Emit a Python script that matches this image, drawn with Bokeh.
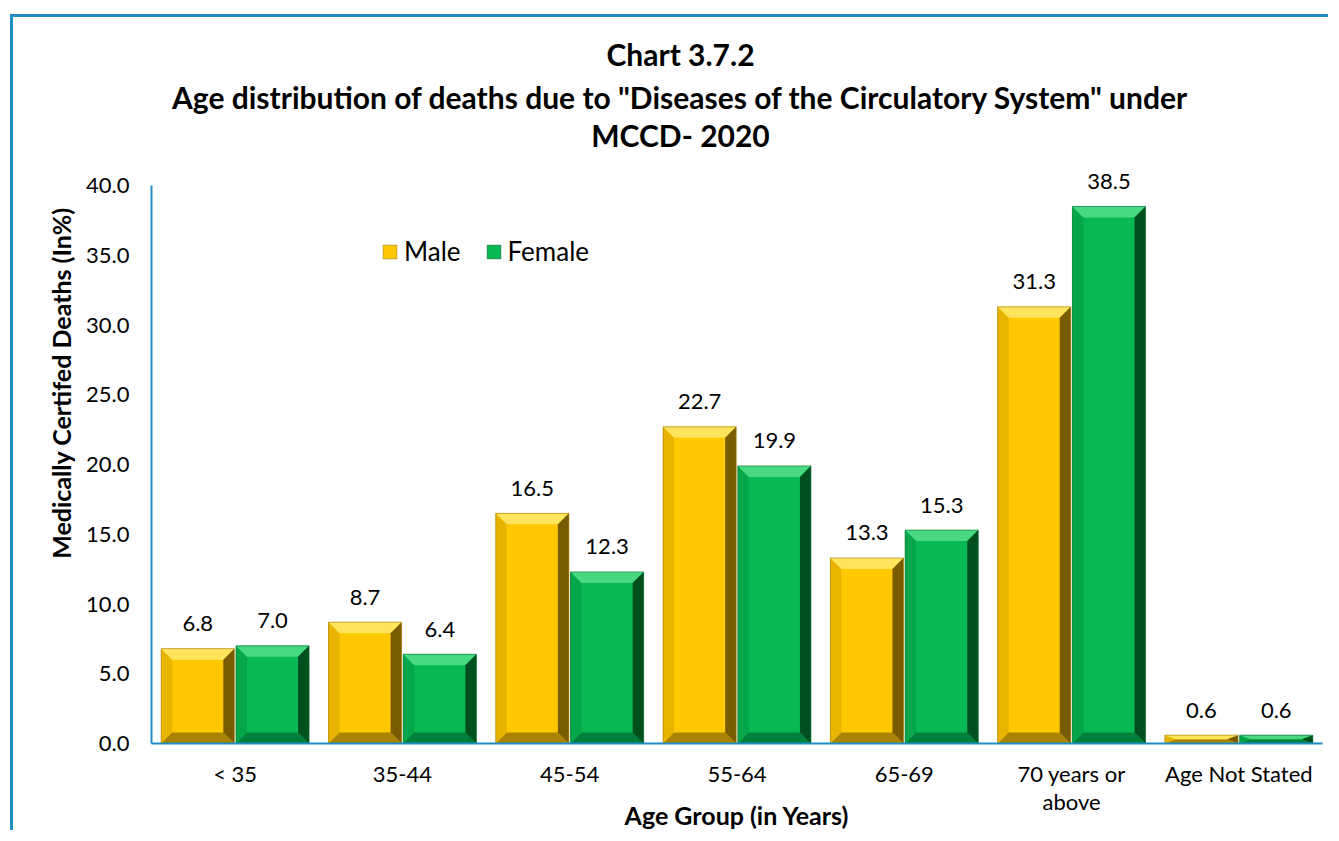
import numpy as np
from bokeh.plotting import figure
from bokeh.models import (Range1d, FixedTicker, PrintfTickFormatter, Legend, Label,
                          LegendItem, ColumnDataSource, LabelSet)
from bokeh.core.properties import value
from bokeh.embed import file_html
from bokeh.resources import INLINE

categories = ["< 35", "35-44", "45-54", "55-64", "65-69", "70 years or\nabove", "Age Not Stated"]
male = [6.8, 8.7, 16.5, 22.7, 13.3, 31.3, 0.6]
female = [7.0, 6.4, 12.3, 19.9, 15.3, 38.5, 0.6]
y_ticks = [0, 5, 10, 15, 20, 25, 30, 35, 40]
title_lines = ["Chart 3.7.2",
               "Age distribution of deaths due to \"Diseases of the Circulatory System\" under",
               "MCCD- 2020"]

FONT = "Lato"
BLUE = "#1F8DC4"

W, H = 1318, 816
ML, MR, MT, MB = 138, 9, 5, 90
Y_AXIS_MAX = 40
# pixel height of the 0..40 axis; frame extends above it to hold titles
axis_px = 558
frame_px = H - MT - MB
px_per_y = axis_px / Y_AXIS_MAX
y_top = frame_px / px_per_y

p = figure(width=W, height=H, x_range=Range1d(0, len(categories)), y_range=Range1d(0, y_top),
           output_backend="svg", toolbar_location=None,
           min_border_left=ML, min_border_right=MR, min_border_bottom=MB, min_border_top=MT)
p.styles = {"margin-left": "10px", "margin-top": "14px",
            "border-top": f"3px solid {BLUE}", "border-left": f"3px solid {BLUE}"}
p.outline_line_color = None
p.xgrid.visible = False
p.ygrid.visible = False
p.background_fill_color = "white"
p.border_fill_color = "white"

px_per_x = (W - ML - MR) / len(categories)

# title lines, placed above the 0..40 axis (pixel offsets converted to data units)
title_center_x = (680 - 151) / px_per_x
for txt, up in zip(title_lines, [132, 89, 51]):
    p.add_layout(Label(x=title_center_x, y=Y_AXIS_MAX + up / px_per_y, text=txt,
                       text_align="center", text_baseline="middle", text_font=FONT,
                       text_font_size="30px", text_font_style="bold", text_color="black"))

# axes
xa = p.xaxis[0]
xa.ticker = FixedTicker(ticks=[i + 0.5 for i in range(len(categories))])
xa.major_label_overrides = {i + 0.5: c for i, c in enumerate(categories)}
ya = p.yaxis[0]
ya.ticker = FixedTicker(ticks=y_ticks)
ya.formatter = PrintfTickFormatter(format="%.1f")
ya.bounds = (0, Y_AXIS_MAX)
for ax in (xa, ya):
    ax.axis_line_color = BLUE
    ax.axis_line_width = 2
    ax.major_tick_line_color = None
    ax.minor_tick_line_color = None
    ax.major_label_text_font = FONT
    ax.major_label_text_font_size = "22px"
    ax.major_label_text_color = "black"
    ax.axis_label_text_font = FONT
    ax.axis_label_text_font_size = "25px"
    ax.axis_label_text_font_style = "bold"
    ax.axis_label_text_color = "black"
xa.axis_label = "Age Group (in Years)"
ya.axis_label = "Medically Certifed Deaths (In%)"
xa.major_label_standoff = 10
xa.major_label_text_line_height = 1.05
ya.major_label_standoff = 16
xa.axis_label_standoff = -18
ya.axis_label_standoff = 7

# bevelled bars
bw = 11 / px_per_x
bh_full = 11 / px_per_y

series = [
    ("Male", male, -0.442, -0.005,
     dict(face="#FFC800", top="#FFE45C", left="#E8B400", right="#7A5C00", bottom="#A88400", line="#9C7A00")),
    ("Female", female, 0.005, 0.442,
     dict(face="#08B852", top="#48D982", left="#06A64A", right="#00501F", bottom="#00803A", line="#006B2C")),
]

legend_items = []
for name, vals, o0, o1, col in series:
    x0 = np.array([i + 0.5 + o0 for i in range(len(vals))])
    x1 = np.array([i + 0.5 + o1 for i in range(len(vals))])
    y1 = np.array(vals, dtype=float)
    bh = np.minimum(bh_full, y1 / 2.0)
    base = p.quad(left=x0, right=x1, bottom=0, top=y1, fill_color=col["face"], line_color=None)
    polys = {
        "top": ([[a, b, b - bw, a + bw] for a, b in zip(x0, x1)],
                [[t, t, t - h, t - h] for t, h in zip(y1, bh)]),
        "bottom": ([[a, b, b - bw, a + bw] for a, b in zip(x0, x1)],
                   [[0, 0, h, h] for h in bh]),
        "left": ([[a, a, a + bw, a + bw] for a in x0],
                 [[0, t, t - h, h] for t, h in zip(y1, bh)]),
        "right": ([[b, b, b - bw, b - bw] for b in x1],
                  [[0, t, t - h, h] for t, h in zip(y1, bh)]),
    }
    for k in ("left", "bottom", "top", "right"):
        xs, ys = polys[k]
        p.patches(xs=xs, ys=ys, fill_color=col[k], line_color=None)
    outline = p.quad(left=x0, right=x1, bottom=0, top=y1, fill_color=None,
                     line_color=col["line"], line_width=1, line_alpha=0.6)
    legend_items.append(LegendItem(label=name, renderers=[base, outline]))
    src = ColumnDataSource(dict(x=(x0 + x1) / 2, y=y1, t=[f"{v:.1f}" for v in vals]))
    p.add_layout(LabelSet(x="x", y="y", text="t", source=src, text_align="center",
                          text_baseline="middle", y_offset=25, text_font=value(FONT),
                          text_font_size=value("22px"), text_color="black"))

legend = Legend(items=legend_items, orientation="horizontal", location=(230, 476),
                label_text_font=FONT, label_text_font_size="26px", label_text_color="black",
                glyph_width=17, glyph_height=17, label_standoff=6, spacing=24,
                padding=0, margin=0, border_line_color=None, background_fill_alpha=0)
p.add_layout(legend, "center")

open("out.html", "w").write(file_html(p, INLINE))
